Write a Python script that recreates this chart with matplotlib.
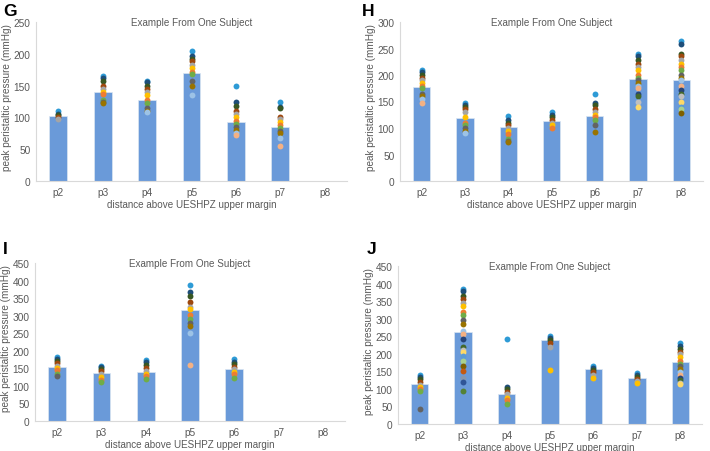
import numpy as np
import matplotlib
matplotlib.use("Agg")
import matplotlib.pyplot as plt

plt.rcParams["font.family"] = ["Liberation Sans", "DejaVu Sans"]

# categories (positions above UES HPZ)
positions = ["p2", "p3", "p4", "p5", "p6", "p7", "p8"]

# panel G
g_means = [102, 140, 127, 170, 92, 85, None]
g_dots = [
    [110, 106, 103, 100, 97],
    [165, 162, 158, 150, 145, 140, 137, 128, 125, 122],
    [157, 155, 150, 145, 140, 135, 128, 122, 115, 110, 108],
    [205, 196, 192, 188, 183, 178, 172, 168, 158, 150, 135],
    [150, 124, 118, 110, 105, 100, 95, 90, 85, 80, 75, 73],
    [124, 117, 114, 100, 97, 92, 88, 83, 78, 75, 68, 55],
    [],
]

# panel H
h_means = [178, 118, 101, 113, 123, 193, 191]
h_dots = [
    [210, 205, 200, 195, 190, 185, 180, 175, 165, 160, 155, 147],
    [148, 143, 140, 135, 130, 120, 110, 105, 100, 95, 90],
    [123, 115, 110, 105, 100, 95, 88, 80, 75, 73],
    [130, 125, 120, 115, 110, 105, 100],
    [165, 147, 143, 135, 130, 125, 120, 115, 105, 92],
    [240, 235, 228, 220, 215, 210, 200, 195, 190, 185, 180, 175, 165, 160, 150, 140],
    [265, 258, 240, 235, 228, 220, 215, 210, 200, 195, 190, 180, 172, 165, 160, 150, 140, 135, 128],
]

# panel I
i_means = [155, 137, 140, 315, 148, None, None]
i_dots = [
    [182, 178, 172, 165, 158, 150, 145, 135, 128],
    [158, 153, 148, 143, 135, 125, 118, 112],
    [173, 168, 160, 150, 143, 135, 128, 120],
    [388, 367, 355, 338, 325, 318, 303, 290, 278, 270, 250, 160],
    [177, 168, 162, 155, 148, 140, 133, 122],
    [],
    [],
]

# panel J
j_means = [115, 263, 86, 238, 158, 132, 178]
j_dots = [
    [140, 135, 128, 120, 112, 105, 100, 95, 42],
    [385, 378, 365, 355, 345, 335, 320, 310, 295, 285, 265, 255, 242, 220, 212,
     205, 195, 180, 165, 150, 132, 120, 95],
    [242, 105, 100, 92, 85, 75, 68, 58],
    [250, 245, 238, 230, 220, 155],
    [165, 160, 155, 148, 140, 132],
    [145, 140, 133, 128, 122, 118],
    [230, 222, 215, 205, 198, 190, 180, 172, 165, 158, 148, 140, 132, 125, 118, 115],
]

# excel-ish series colours for the individual swallows
dot_colors = ["#2E9BD6", "#1F4E79", "#385723", "#9E480E", "#A5A5A5", "#FFC000",
              "#ED7D31", "#70AD47", "#636363", "#997300", "#9DC3E6", "#F4B183",
              "#264478", "#43682B", "#BFBFBF", "#FFD966", "#5B9BD5", "#A9D18E",
              "#7F6000", "#C55A11", "#8497B0", "#2F5597", "#548235"]

bar_color = "#6A9AD9"
text_color = "#595959"

fig = plt.figure(figsize=(7.1, 4.52), dpi=100)

panels = [
    ("G", g_means, g_dots, 250, [36/710, 1-182/452, 311/710, 159/452], (3/710, 1-11/452)),
    ("H", h_means, h_dots, 300, [400/710, 1-182/452, 303/710, 159/452], (362/710, 1-11/452)),
    ("I", i_means, i_dots, 450, [35/710, 1-422/452, 310/710, 158/452], (3/710, 1-250/452)),
    ("J", j_means, j_dots, 450, [398/710, 1-425/452, 304/710, 158/452], (367/710, 1-250/452)),
]

for letter, means, dots, ymax, rect, lpos in panels:
    ax = fig.add_axes(rect)
    x = np.arange(len(positions))
    heights = [m if m is not None else 0 for m in means]
    ax.bar(x, heights, width=0.4, color=bar_color, edgecolor="#DCE6F2", linewidth=0.5, zorder=2)
    for k, vals in enumerate(dots):
        for j, v in enumerate(vals):
            ax.scatter(k, v, s=18, color=dot_colors[j % len(dot_colors)], zorder=3, linewidths=0)
    ax.set_xlim(-0.5, len(positions) - 0.5)
    ax.set_ylim(0, ymax)
    ax.set_yticks(np.arange(0, ymax + 1, 50))
    ax.set_xticks(x)
    ax.set_xticklabels(positions)
    ax.tick_params(length=0, labelsize=7.3, colors=text_color, pad=4)
    for s in ["top", "right"]:
        ax.spines[s].set_visible(False)
    for s in ["left", "bottom"]:
        ax.spines[s].set_color("#D9D9D9")
        ax.spines[s].set_linewidth(0.8)
    ax.set_xlabel("distance above UESHPZ upper margin", fontsize=7.1, color=text_color, labelpad=2)
    ax.set_ylabel("peak peristaltic pressure (mmHg)", fontsize=7.2, color=text_color)
    ax.yaxis.set_label_coords(-24 / (rect[2] * 710), 0.53)
    ax.text(0.5, 1.0, "Example From One Subject", transform=ax.transAxes,
            ha="center", va="center", fontsize=7.1, color=text_color)
    fig.text(lpos[0], lpos[1], letter, fontsize=12.5, fontweight="bold", va="center", ha="left")

fig.savefig("out.png", dpi=100)
